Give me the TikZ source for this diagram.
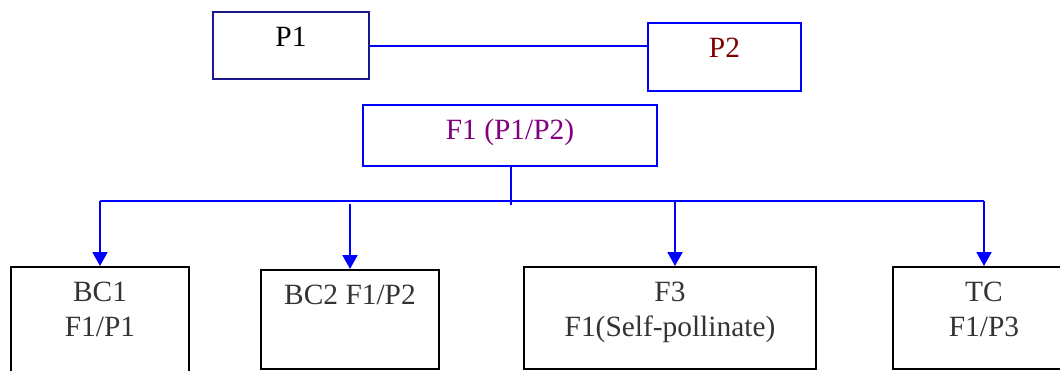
\documentclass[tikz,border=0pt]{standalone}
\usepackage{fontspec}
\setmainfont{Liberation Serif}
\usetikzlibrary{arrows.meta}

\definecolor{parentnavy}{RGB}{25,25,140}
\definecolor{darkred}{RGB}{128,0,0}
\definecolor{hybridpurple}{RGB}{128,0,128}
\definecolor{crossgray}{RGB}{51,51,51}

\begin{document}
\begin{tikzpicture}[x=1pt,y=-1pt]
   \tikzstyle{every node}=[draw, rectangle, line width=2pt, inner ysep=0pt, anchor=north, align=center,
                           font=\fontsize{29.4pt}{35pt}\selectfont, text height=34pt]
   \tikzstyle{two lines}=[text height=69pt]
   \tikzstyle{link}=[draw=blue, line width=2pt]
   \tikzstyle{arrow}=[link, -{Triangle[width=15pt,length=14pt]}]

\useasboundingbox (0,0) rectangle (1060,370);
\clip (0,0) rectangle (1060,370);

% parents
\node[draw=parentnavy, minimum width=156pt, text depth=33pt] (p1) at (291,11) {P1};
\node[draw=blue, text=darkred, minimum width=153pt, text depth=34pt] (p2) at (724.5,22) {P2};
\node[draw=blue, text=hybridpurple, minimum width=294pt, text depth=27pt] (f1) at (510,104) {F1 (P1/P2)};

% crosses
\node[two lines, text=crossgray, minimum width=178pt, text depth=45pt] (bc1) at (100,266) {BC1\\F1/P1};
\node[text=crossgray, minimum width=178pt, text depth=65pt] (bc2) at (350,269) {BC2 F1/P2};
\node[two lines, text=crossgray, minimum width=292pt, text depth=33pt] (f3) at (670,266) {F3\\F1(Self-pollinate)};
\node[two lines, text=crossgray, minimum width=182pt, text depth=33pt] (tc) at (984,266) {TC\\F1/P3};

\coordinate (bus) at (511,201);
\coordinate (stem) at (511,205);

\draw[link] (p1.east) -- (p1.east -| p2.west);
\draw[link] (f1.south -| stem) -- (stem);
\draw[link] (bc1.north |- bus) -- (tc.north |- bus);

\draw[arrow] (bc1.north |- bus) -- (bc1.north);
\draw[arrow] ([yshift=-3pt]bc2.north |- bus) -- (bc2.north);
\draw[arrow] ([xshift=5pt]f3.north |- bus) -- ([xshift=5pt]f3.north);
\draw[arrow] (tc.north |- bus) -- (tc.north);

\end{tikzpicture}
\end{document}
